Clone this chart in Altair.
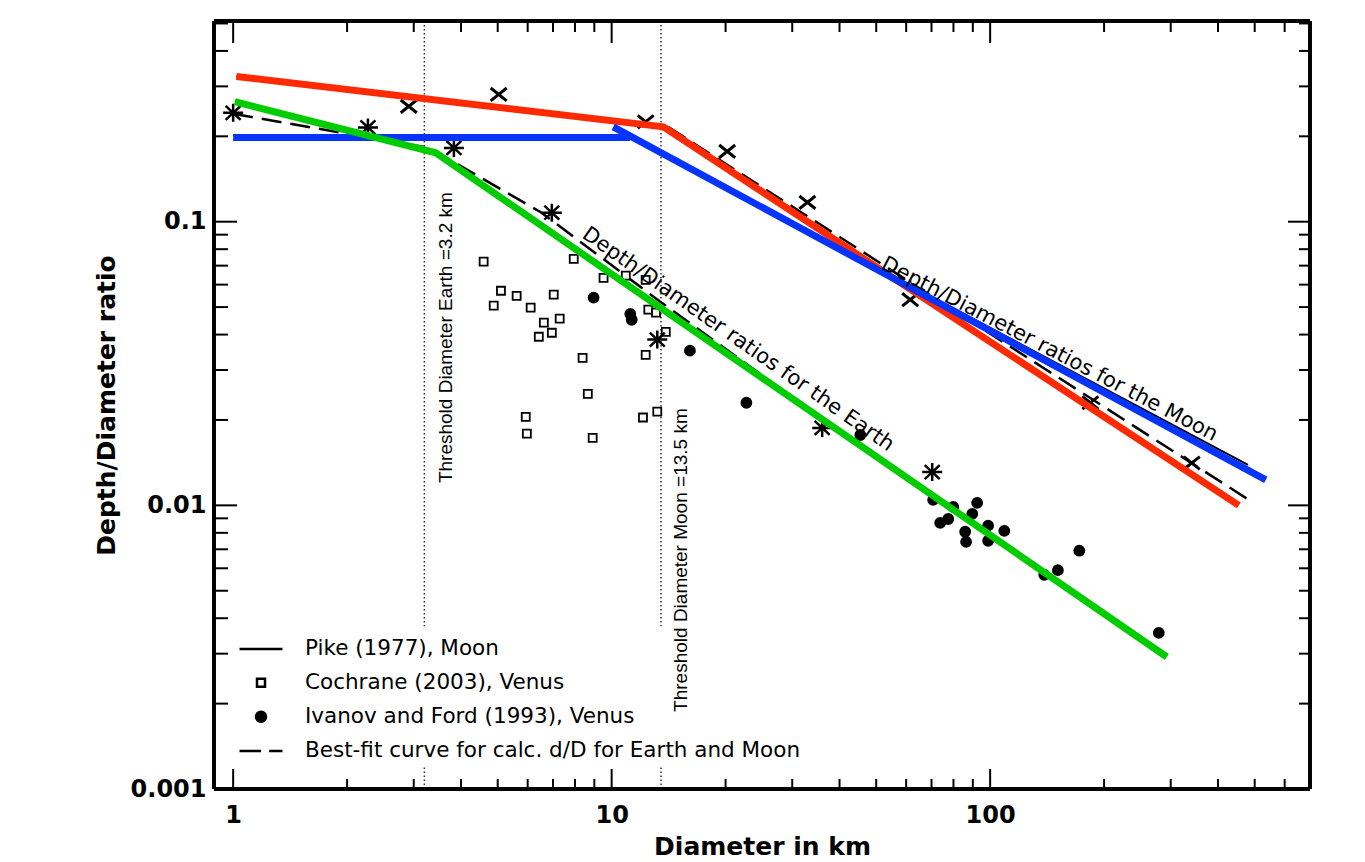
import altair as alt
import pandas as pd

W, H = 1096, 768

# ---------------- data ----------------
# Cochrane (2003), Venus  (open squares)
coch_D = [4.59, 5.10, 4.88, 5.61, 6.11, 7.03, 7.29, 6.62, 6.95, 6.42, 7.94, 9.52, 10.9,
          12.3, 8.38, 8.65, 5.93, 5.97, 8.91, 12.1, 13.2, 12.3, 12.5, 13.1, 13.9]
coch_R = [0.0723, 0.0571, 0.0506, 0.0548, 0.0498, 0.0553, 0.0455, 0.0441, 0.0406, 0.0393,
          0.0740, 0.0634, 0.0645, 0.0624, 0.0331, 0.0247, 0.0205, 0.0179, 0.0173, 0.0204,
          0.0214, 0.0339, 0.0490, 0.0478, 0.0409]

# Ivanov and Ford (1993), Venus  (filled dots)
iv_D = [8.96, 11.2, 11.3, 16.1, 22.7, 45.4, 70.7, 79.9, 92.4, 89.7, 73.8, 77.5, 85.9,
        86.4, 98.8, 98.8, 109, 172, 151, 139, 279]
iv_R = [0.0540, 0.0473, 0.0451, 0.0351, 0.0230, 0.0177, 0.01045, 0.00988, 0.0102, 0.00933,
        0.00867, 0.00895, 0.00807, 0.00743, 0.00848, 0.00750, 0.00813, 0.00692, 0.00591,
        0.00569, 0.00355]

# Moon craters (crosses)
moon_D = [2.91, 5.03, 12.3, 20.2, 32.9, 61.5, 184, 341]
moon_R = [0.255, 0.281, 0.225, 0.177, 0.117, 0.0531, 0.0230, 0.0141]

# Earth craters (asterisks)
earth_D = [1.0, 2.27, 3.83, 6.95, 13.2, 36.0, 70.3]
earth_R = [0.242, 0.215, 0.182, 0.1076, 0.0384, 0.01875, 0.0131]

# Pike (1977), Moon  (solid black)
pike_D = [1.0, 11.0, 480]
pike_R = [0.202, 0.202, 0.0139]

# Best-fit curves (dashed black)
fitE_D = [1.0, 3.3, 6.5, 13.5, 36, 295]
fitE_R = [0.24, 0.182, 0.108, 0.052, 0.0202, 0.00295]
fitM_D = [1.02, 14.1, 491]
fitM_R = [0.325, 0.216, 0.0103]

# coloured overlay lines
red_D = [1.02, 13.7, 454]
red_R = [0.325, 0.216, 0.0100]
blue_D = [1.0, 11.2, 10.1, 535]
blue_R = [0.198, 0.198, 0.216, 0.0123]
blue_seg = ["b0", "b0", "b1", "b1"]
green_D = [1.01, 3.43, 293]
green_R = [0.265, 0.175, 0.00292]

# threshold diameters
thr_D = [3.2, 3.2, 13.5, 13.5]
thr_R = [0.51, 0.00119, 0.51, 0.00119]
thr_R2 = [0.00375, 0.001, 0.00375, 0.001]

# axis ticks
x_major = [1, 10, 100]
x_minor = [2, 3, 4, 5, 6, 7, 8, 9, 20, 30, 40, 50, 60, 70, 80, 90, 200, 300, 400, 500, 600]
y_major = [0.001, 0.01, 0.1]
y_minor = [0.002, 0.003, 0.004, 0.005, 0.006, 0.007, 0.008, 0.009,
           0.02, 0.03, 0.04, 0.05, 0.06, 0.07, 0.08, 0.09, 0.2, 0.3, 0.4, 0.5]

legend_names = ["Pike (1977), Moon", "Cochrane (2003), Venus",
                "Ivanov and Ford (1993), Venus",
                "Best-fit curve for calc. d/D for Earth and Moon"]

# ---------------- frames ----------------
pts = pd.DataFrame({
    "D": coch_D + iv_D,
    "R": coch_R + iv_R,
    "series": [legend_names[1]] * len(coch_D) + [legend_names[2]] * len(iv_D),
})
moon = pd.DataFrame({"D": moon_D, "R": moon_R})
earth = pd.DataFrame({"D": earth_D, "R": earth_R})
pike = pd.DataFrame({"D": pike_D, "R": pike_R})
fits = pd.DataFrame({"D": fitE_D + fitM_D, "R": fitE_R + fitM_R,
                     "curve": ["E"] * len(fitE_D) + ["M"] * len(fitM_D)})
col = pd.DataFrame({
    "D": red_D + blue_D + green_D,
    "R": red_R + blue_R + green_R,
    "line": ["red"] * 3 + ["blue"] * 4 + ["green"] * 3,
    "seg": ["r0"] * 3 + blue_seg + ["g0"] * 3,
})
thr = pd.DataFrame({"D": thr_D, "R": thr_R, "R2": thr_R2})
xmaj = pd.DataFrame({"D": x_major})
xmin = pd.DataFrame({"D": x_minor})
ymaj = pd.DataFrame({"R": y_major})
ymin = pd.DataFrame({"R": y_minor})

# ---------------- scales / axes ----------------
xs = alt.Scale(type="log", domain=[0.89, 700], nice=False)
ys = alt.Scale(type="log", domain=[0.001, 0.51], nice=False)
xax = alt.Axis(values=x_major, format="~g", ticks=False, domain=False, grid=False,
               labelFont="DejaVu Sans", labelFontWeight="bold", labelFontSize=24,
               labelColor="black", labelPadding=14, labelFlush=False, labelOverlap=False,
               title="Diameter in km", titleFont="DejaVu Sans", titleFontWeight="bold",
               titleFontSize=25, titleColor="black", titlePadding=7)
yax = alt.Axis(values=y_major, format="~g", ticks=False, domain=False, grid=False,
               labelFont="DejaVu Sans", labelFontWeight="bold", labelFontSize=24,
               labelColor="black", labelPadding=8, labelFlush=False, labelOverlap=False,
               title="Depth/Diameter ratio", titleFont="DejaVu Sans", titleFontWeight="bold",
               titleFontSize=25, titleColor="black", titlePadding=11)


def X(f="D"):
    return alt.X(f"{f}:Q", scale=xs, axis=xax)


def Y(f="R"):
    return alt.Y(f"{f}:Q", scale=ys, axis=yax)


# ---------------- layers ----------------
thr_layer = alt.Chart(thr).mark_rule(color="#333", strokeWidth=1.5, strokeDash=[1.5, 2.5]).encode(
    x=X(), y=Y(), y2="R2:Q")

pike_layer = alt.Chart(pike).mark_line(color="black", strokeWidth=2).encode(x=X(), y=Y())

fit_layer = alt.Chart(fits).mark_line(color="black", strokeWidth=2.5, strokeDash=[20, 9]).encode(
    x=X(), y=Y(), detail="curve:N")

leg = alt.Legend(title=None, orient="none", legendX=35, legendY=616,
                 labelFont="DejaVu Sans", labelFontSize=21.5, labelColor="black",
                 labelOffset=32, symbolStrokeWidth=2.5,
                 rowPadding=11, padding=0, labelLimit=700)
shape_range = ["M-2,0H2", "square", "circle", "M-2,0H0M0.76,0H2"]
pts_layer = alt.Chart(pts).mark_point(color="black", strokeWidth=1.8, opacity=1).encode(
    x=X(), y=Y(),
    shape=alt.Shape("series:N", scale=alt.Scale(type="ordinal", domain=legend_names,
                    range=shape_range), legend=leg),
    fill=alt.Fill("series:N", scale=alt.Scale(type="ordinal", domain=legend_names,
                  range=["transparent", "white", "black", "transparent"]), legend=leg),
    stroke=alt.Stroke("series:N", scale=alt.Scale(type="ordinal", domain=legend_names,
                      range=["black", "black", "black", "black"]), legend=leg),
    size=alt.Size("series:N", scale=alt.Scale(type="ordinal", domain=legend_names,
                  range=[462, 64, 100, 462]), legend=leg),
)

moon_layer = alt.Chart(moon).mark_point(
    shape="M-1,-0.8L1,0.8M-1,0.8L1,-0.8", size=256, color="black", strokeWidth=3, opacity=1
).encode(x=X(), y=Y())

earth_layer = alt.Chart(earth).mark_point(
    shape="M-1,0H1M0,-0.9V0.9M-0.75,-0.7L0.75,0.7M-0.75,0.7L0.75,-0.7",
    size=400, color="black", strokeWidth=2.5, opacity=1
).encode(x=X(), y=Y())

col_layer = alt.Chart(col).mark_line(strokeWidth=7, strokeCap="butt").encode(
    x=X(), y=Y(), detail="seg:N",
    color=alt.Color("line:N", scale=alt.Scale(domain=["red", "blue", "green"],
                    range=["#ff2a00", "#0533ff", "#00cc00"]), legend=None))

ann_earth = alt.Chart(pd.DataFrame({"D": [8.30], "R": [0.0883],
                                    "t": ["Depth/Diameter ratios for the Earth"]})).mark_text(
    angle=35, align="left", baseline="alphabetic", font="DejaVu Sans", fontSize=21,
    color="black").encode(x=X(), y=Y(), text="t:N")
ann_moon = alt.Chart(pd.DataFrame({"D": [51.2], "R": [0.0687],
                                   "t": ["Depth/Diameter ratios for the Moon"]})).mark_text(
    angle=27.5, align="left", baseline="alphabetic", font="DejaVu Sans", fontSize=21,
    color="black").encode(x=X(), y=Y(), text="t:N")
ann_thr = alt.Chart(pd.DataFrame({"D": [3.79, 15.8], "R": [0.01198, 0.00187],
                                  "t": ["Threshold Diameter Earth =3.2 km",
                                        "Threshold Diameter Moon =13.5 km"]})).mark_text(
    angle=270, align="left", baseline="alphabetic", font="Liberation Sans", fontSize=19,
    color="black").encode(x=X(), y=Y(), text="t:N")

# inward ticks on all four sides
tk = dict(color="black", strokeWidth=2)
t1 = alt.Chart(xmaj).mark_rule(**tk).encode(x=X(), y=alt.value(H), y2=alt.value(H - 20))
t2 = alt.Chart(xmin).mark_rule(**tk).encode(x=X(), y=alt.value(H), y2=alt.value(H - 10))
t3 = alt.Chart(xmaj).mark_rule(**tk).encode(x=X(), y=alt.value(0), y2=alt.value(22))
t4 = alt.Chart(xmin).mark_rule(**tk).encode(x=X(), y=alt.value(0), y2=alt.value(11))
t5 = alt.Chart(ymaj).mark_rule(**tk).encode(y=Y(), x=alt.value(0), x2=alt.value(23))
t6 = alt.Chart(ymin).mark_rule(**tk).encode(y=Y(), x=alt.value(0), x2=alt.value(14))
t7 = alt.Chart(ymaj).mark_rule(**tk).encode(y=Y(), x=alt.value(W), x2=alt.value(W - 22))
t8 = alt.Chart(ymin).mark_rule(**tk).encode(y=Y(), x=alt.value(W), x2=alt.value(W - 11))

# heavy black frame around the plot area
fr = dict(color="black", strokeWidth=3.5)
f1 = alt.Chart(xmaj).mark_rule(**fr).encode(x=alt.value(0), x2=alt.value(W), y=alt.value(0))
f2 = alt.Chart(xmaj).mark_rule(**fr).encode(x=alt.value(0), x2=alt.value(W), y=alt.value(H))
f3 = alt.Chart(xmaj).mark_rule(**fr).encode(y=alt.value(0), y2=alt.value(H), x=alt.value(0))
f4 = alt.Chart(xmaj).mark_rule(**fr).encode(y=alt.value(0), y2=alt.value(H), x=alt.value(W))

chart = alt.layer(
    thr_layer, pike_layer, fit_layer, pts_layer, moon_layer, earth_layer, col_layer,
    ann_earth, ann_moon, ann_thr, t1, t2, t3, t4, t5, t6, t7, t8, f1, f2, f3, f4
).properties(
    width=W, height=H,
    padding={"left": 214, "top": 21, "right": 55, "bottom": 73},
    autosize=alt.AutoSizeParams(type="none"),
).configure_view(stroke="black", strokeWidth=3).configure(background="white")

chart.save("out.html", embed_options={"renderer": "svg", "actions": False})
